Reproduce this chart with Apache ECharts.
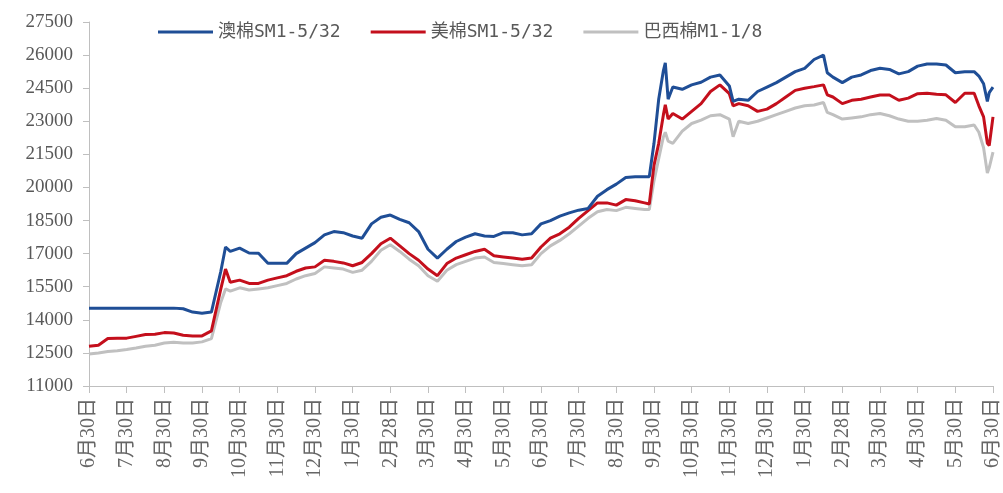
<!DOCTYPE html>
<html><head><meta charset="utf-8">
<script src="https://cdn.jsdelivr.net/npm/echarts@6/dist/echarts.min.js"></script>
<style>html,body{margin:0;padding:0;background:#fff}#c{width:1003px;height:493px}</style>
</head><body><div id="c"></div>
<script>
const xLabels = ['6月30日','7月30日','8月30日','9月30日','10月30日','11月30日','12月30日','1月30日','2月28日','3月30日','4月30日','5月30日','6月30日','7月30日','8月30日','9月30日','10月30日','11月30日','12月30日','1月30日','2月28日','3月30日','4月30日','5月30日','6月30日'];
const yTicks = [11000,12500,14000,15500,17000,18500,20000,21500,23000,24500,26000,27500];
const seriesNames = ['澳棉SM1-5/32','美棉SM1-5/32','巴西棉M1-1/8'];
// positions in months since the first label
const months = [0,0.25,0.5,0.75,1,1.25,1.5,1.75,2,2.25,2.5,2.75,3,3.25,3.5,3.625,3.75,4,4.25,4.5,4.75,5,5.25,5.5,5.75,6,6.25,6.5,6.75,7,7.25,7.5,7.75,8,8.25,8.5,8.75,9,9.25,9.5,9.75,10,10.25,10.5,10.75,11,11.25,11.5,11.75,12,12.25,12.5,12.75,13,13.25,13.5,13.75,14,14.25,14.5,14.75,14.875,15,15.125,15.25,15.3,15.375,15.5,15.75,16,16.25,16.5,16.75,17,17.1,17.25,17.5,17.75,18,18.25,18.5,18.75,19,19.25,19.5,19.6,19.75,20,20.25,20.5,20.75,21,21.25,21.5,21.75,22,22.25,22.5,22.75,23,23.25,23.5,23.625,23.75,23.85,23.9,24];
const aus = [14530,14530,14530,14530,14530,14530,14530,14530,14530,14530,14500,14350,14300,14350,16200,17300,17100,17250,17030,17020,16560,16560,16560,17000,17250,17500,17850,18000,17950,17800,17700,18350,18650,18750,18550,18400,18000,17200,16800,17200,17550,17750,17900,17800,17780,17950,17950,17850,17900,18350,18500,18700,18850,18970,19050,19600,19900,20150,20450,20490,20490,20490,22000,24000,25300,25650,24000,24550,24450,24650,24770,25000,25100,24600,23900,24000,23950,24350,24550,24750,25000,25250,25400,25800,26000,25200,25000,24750,25000,25100,25300,25400,25350,25150,25250,25500,25600,25600,25550,25200,25250,25250,25050,24700,23900,24300,24550];
const usa = [12800,12850,13150,13160,13170,13250,13330,13350,13420,13400,13300,13270,13270,13500,15400,16300,15700,15800,15650,15650,15800,15900,16000,16200,16350,16400,16700,16650,16580,16450,16600,17000,17450,17700,17350,17000,16700,16300,16000,16550,16800,16950,17100,17200,16900,16850,16800,16750,16800,17300,17700,17900,18200,18600,18950,19300,19300,19200,19450,19400,19300,19250,21000,22000,23300,23750,23100,23350,23100,23450,23800,24350,24650,24250,23700,23800,23700,23450,23550,23800,24100,24400,24500,24570,24650,24200,24100,23800,23950,24000,24100,24190,24190,23950,24050,24250,24270,24230,24200,23850,24270,24270,23700,23200,22000,21900,23200];
const bra = [12450,12500,12560,12600,12650,12720,12800,12850,12950,12980,12950,12950,13000,13150,14800,15400,15300,15450,15350,15400,15450,15550,15650,15850,16000,16100,16400,16350,16300,16150,16250,16650,17150,17400,17100,16750,16450,16000,15750,16250,16500,16650,16800,16850,16600,16550,16500,16450,16500,17000,17350,17600,17900,18250,18600,18900,19000,18950,19100,19050,19000,19000,20300,21300,22300,22500,22100,22000,22550,22900,23050,23250,23300,23100,22300,23000,22900,23000,23150,23300,23450,23600,23700,23740,23850,23400,23300,23100,23150,23200,23300,23350,23250,23100,23000,23000,23050,23130,23050,22750,22750,22830,22500,21800,20650,20900,21600];
const colors = ['#1f4e96','#c40f1c','#c0c0c0'];

const pair = arr => months.map((m,i)=>[m, arr[i]]);
const chart = echarts.init(document.getElementById('c'));
const txt = '#595959';
chart.setOption({
  animation:false,
  backgroundColor:'#fff',
  grid:{left:89,right:9,top:22,bottom:107,containLabel:false},
  legend:{
    left:153, top:18, icon:'rect', itemWidth:55, itemHeight:3, itemGap:30,
    textStyle:{color:txt,fontSize:18,fontFamily:"'DejaVu Sans Mono','Noto Sans CJK SC',monospace"},
    data:seriesNames
  },
  xAxis:{
    type:'value', min:0, max:24, interval:1,
    axisLine:{show:true,lineStyle:{color:'#bfbfbf',width:1}},
    axisTick:{show:true,length:7,lineStyle:{color:'#bfbfbf'}},
    splitLine:{show:false},
    axisLabel:{rotate:90,margin:12,color:'#666',fontSize:20,fontFamily:"'Liberation Serif','Noto Sans CJK SC',serif",
      formatter:v=>xLabels[Math.round(v)]}
  },
  yAxis:{
    type:'value', min:yTicks[0], max:yTicks[yTicks.length-1], interval:1500,
    axisLine:{show:true,lineStyle:{color:'#bfbfbf',width:1}},
    axisTick:{show:true,length:6,lineStyle:{color:'#bfbfbf'}},
    splitLine:{show:false},
    axisLabel:{margin:16,color:txt,fontSize:19,fontFamily:"'Liberation Serif',serif",formatter:v=>String(v)}
  },
  series:[
    {name:seriesNames[0],type:'line',data:pair(aus),symbol:'none',z:5,lineStyle:{width:3,color:colors[0]},itemStyle:{color:colors[0]}},
    {name:seriesNames[1],type:'line',data:pair(usa),symbol:'none',z:4,lineStyle:{width:3,color:colors[1]},itemStyle:{color:colors[1]}},
    {name:seriesNames[2],type:'line',data:pair(bra),symbol:'none',z:3,lineStyle:{width:3,color:colors[2]},itemStyle:{color:colors[2]}}
  ]
});
</script></body></html>
